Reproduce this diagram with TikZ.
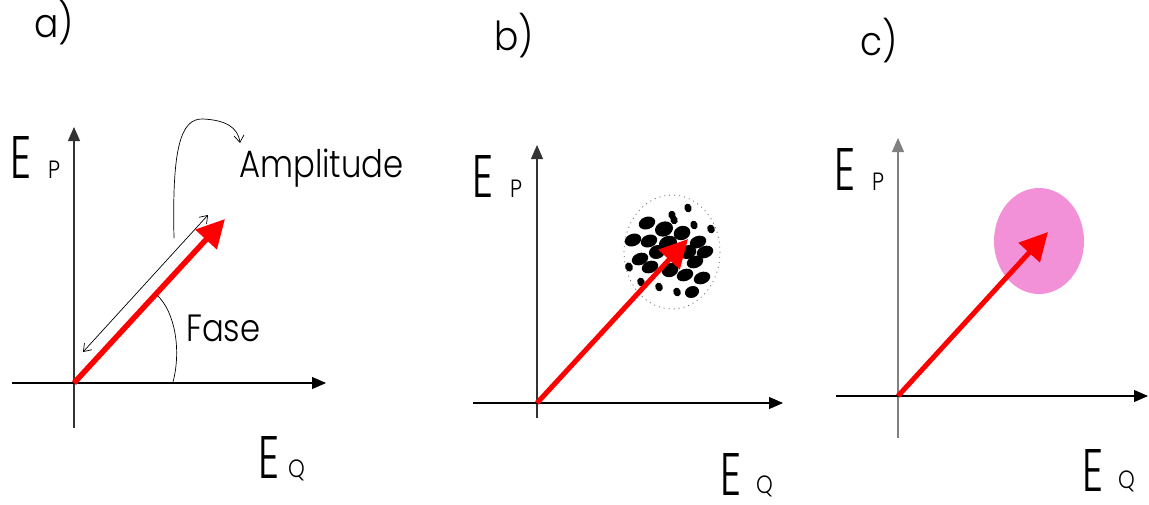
\documentclass[tikz,border=0pt]{standalone}
\usepackage{fontspec}
\IfFontExistsTF{Poppins Light}{\setmainfont{Poppins Light}}{\setmainfont{Poppins}}
\usetikzlibrary{arrows.meta}
\definecolor{blobpink}{RGB}{242,145,216}
\begin{document}
\begin{tikzpicture}[x=1pt,y=-1pt,
  axis/.style={line width=1.1pt, -{Triangle[length=14pt,width=12pt]}},
  vec/.style={red, line width=5pt, -{Triangle[length=28pt,width=28pt]}},
  thinline/.style={line width=0.7pt},
  lbl/.style={inner sep=0pt, anchor=base west, font=\fontsize{40}{40}\selectfont, xscale=0.9},
  bigE/.style={inner sep=0pt, anchor=base west, font=\fontsize{60}{60}\selectfont, xscale=0.7},
  sub/.style={inner sep=0pt, anchor=base west, font=\fontsize{25}{25}\selectfont, xscale=0.85},
  word/.style={inner sep=0pt, anchor=base west, font=\fontsize{38}{38}\selectfont, xscale=0.85},
  blob/.style={fill=black}
]
\useasboundingbox (0,0) rectangle (1149,504);

% ---------- panel a ----------
\node[lbl] (la) at (34,37) {a)};
\coordinate (aO) at (74,383);
\coordinate (aYb) at (74,428);
\coordinate (aYt) at (74,127);
\coordinate (aXl) at (12,383);
\coordinate (aXr) at (326,383);
\draw[axis, black!80] (aYb) -- (aYt);
\draw[axis] (aXl) -- (aXr);
\node[bigE] (aE) at (10,178) {E};
\node[sub] (aP) at (48,178) {P};
\node[bigE] (aEq) at (258,478) {E};
\node[sub] (aQ) at (288,477) {Q};
\coordinate (aT) at (225,219);
\draw[vec, line width=5.5pt] (aO) -- (aT);
\coordinate (dA) at (83,352);
\coordinate (dB) at (208,215);
\draw[thinline, {Straight Barb[length=7pt,width=10pt]}-{Straight Barb[length=7pt,width=10pt]}] (dA) -- (dB);
\coordinate (c1) at (174,238);
\coordinate (c2) at (203,119);
\coordinate (c3) at (240,143);
\draw[thinline, -{Straight Barb[length=7pt,width=10pt]}] (c1) .. controls (172,150) and (180,118) .. (c2) .. controls (225,120) and (238,127) .. (c3);
\node[word] (amp) at (239,177) {Amplitude};
\coordinate (f1) at (157,295);
\coordinate (f2) at (173,382);
\draw[thinline] (f1) .. controls (176,313) and (181,352) .. (f2);
\node[word] (fase) at (186,341) {Fase};

% ---------- panel b ----------
\node[lbl] (lb) at (494,50) {b)};
\coordinate (bO) at (537,403);
\draw[axis, black!80] (537,418) coordinate (bYb) -- (537,145) coordinate (bYt);
\draw[axis] (473,403) coordinate (bXl) -- (783,403) coordinate (bXr);
\node[bigE] (bE) at (472,197) {E};
\node[sub] (bP) at (510,197) {P};
\node[bigE] (bEq) at (720,495) {E};
\node[sub] (bQ) at (756,493) {Q};
\draw[black!60, line width=0.8pt, dash pattern=on 1pt off 4pt] (672,252) ellipse [x radius=48, y radius=57];
\foreach \x/\y/\rx/\ry in {
 688/208/3.6/4.5, 672/215/3.7/4.3, 674/220/3.7/4.3, 647/223/8.5/6.2, 694/225/3.6/4.5,
 664/229/9.2/7.4, 682/233/8.5/7, 711/229/3.7/4.5, 633/240/8.5/6.2, 649/241/8.5/6.2,
 668/243/9.2/7, 698/242/8.5/6, 657/252/8.2/6.8, 705/252/8.5/6, 640/259/8.5/6,
 688/252/8.5/6.8, 695/262/8.5/6, 629/267/3.8/4.7, 650/267/8.5/6, 670/270/8.5/7,
 685/275/8.5/6, 702/278/8.5/6, 641/282/3.7/4.5, 659/287/3.7/4.5,
 677/292/3.7/4.5, 692/292/7.2/5.8}
 \fill[blob, rotate around={20:(\x,\y)}] (\x,\y) ellipse [x radius=\rx, y radius=\ry];
\coordinate (bT) at (688,239);
\draw[vec] (bO) -- (bT);

% ---------- panel c ----------
\node[lbl] (lc) at (860,55) {c)};
\coordinate (cO) at (898,396);
\draw[axis, gray] (898,438) coordinate (cYb) -- (898,138) coordinate (cYt);
\draw[axis] (836,396) coordinate (cXl) -- (1148,396) coordinate (cXr);
\node[bigE] (cE) at (834,190) {E};
\node[sub] (cP) at (872,190) {P};
\node[bigE] (cEq) at (1082,491) {E};
\node[sub] (cQ) at (1118,488) {Q};
\fill[blobpink] (1039,241) ellipse [x radius=45, y radius=53];
\coordinate (cT) at (1048,232);
\draw[vec] (cO) -- (cT);
\end{tikzpicture}
\end{document}
